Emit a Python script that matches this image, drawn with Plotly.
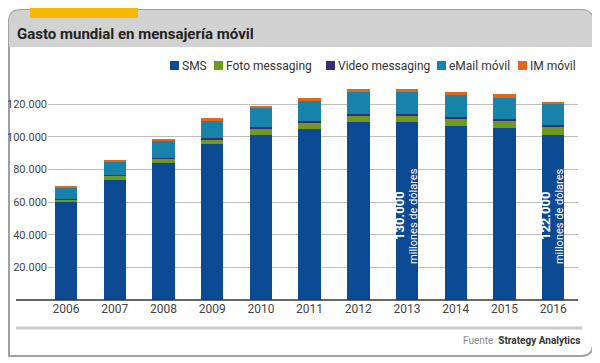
import plotly.graph_objects as go

years = ["2006", "2007", "2008", "2009", "2010", "2011", "2012", "2013", "2014", "2015", "2016"]
sms = [59800, 73600, 83800, 95400, 101300, 104500, 108800, 108800, 106600, 105500, 101300]
foto = [2000, 2700, 3000, 2600, 3800, 4100, 4100, 4100, 4600, 4500, 4900]
video = [200, 300, 400, 1000, 700, 800, 800, 800, 1100, 1000, 1000]
email = [6700, 7900, 10200, 10800, 11700, 12600, 13600, 13600, 13200, 12700, 12600]
im = [800, 800, 1000, 1600, 1500, 1400, 1700, 1700, 2000, 2300, 1400]

series_names = ["SMS", "Foto messaging", "Video messaging", "eMail móvil", "IM móvil"]
series_values = [sms, foto, video, email, im]
colors = ["#0c4a94", "#6f9a1f", "#3a2c78", "#1783a9", "#e2661f"]

y_tickvals = [20000, 40000, 60000, 80000, 100000, 120000]
y_ticktext = ["20.000", "40.000", "60.000", "80.000", "100.000", "120.000"]

note_years = ["2013", "2016"]
note_values = ["130.000", "122.000"]
note_unit = "millones de dólares"

FONT = "Roboto, sans-serif"

# page has an 8px body margin; work in page pixel coordinates
OX, OY = 8, 8
W, H = 592, 355
L, R, T, B = 40, 22, 72, 63
PW, PH = W - L - R, H - T - B


def px(x):
    return (x - OX - L) / PW


def py(y):
    return (H - B - (y - OY)) / PH


fig = go.Figure()
for name, vals, col in zip(series_names, series_values, colors):
    fig.add_trace(go.Bar(x=years, y=vals, name=name, marker=dict(color=col, line=dict(width=0)),
                         showlegend=False))

shapes = []
x0, x1, y0, y1, r = 9, 593, 10, 356, 12
card_path = (f"M {px(x0)} {py(y0 + r)} Q {px(x0)} {py(y0)} {px(x0 + r)} {py(y0)} "
             f"L {px(x1 - r)} {py(y0)} Q {px(x1)} {py(y0)} {px(x1)} {py(y0 + r)} "
             f"L {px(x1)} {py(y1 - r)} Q {px(x1)} {py(y1)} {px(x1 - r)} {py(y1)} "
             f"L {px(x0)} {py(y1)} Z")
shapes.append(dict(type="path", xref="paper", yref="paper", path=card_path,
                   fillcolor="white", line=dict(color="#a0a0a0", width=2), layer="below"))
hy1 = 47
head_path = (f"M {px(x0)} {py(hy1)} L {px(x0)} {py(y0 + r)} Q {px(x0)} {py(y0)} {px(x0 + r)} {py(y0)} "
             f"L {px(x1 - r)} {py(y0)} Q {px(x1)} {py(y0)} {px(x1)} {py(y0 + r)} "
             f"L {px(x1)} {py(hy1)} Z")
shapes.append(dict(type="path", xref="paper", yref="paper", path=head_path,
                   fillcolor="#d2d2d2", line=dict(width=0), layer="below"))
shapes.append(dict(type="rect", xref="paper", yref="paper", x0=px(30), x1=px(138), y0=py(18), y1=py(8),
                   fillcolor="#f6b800", line=dict(width=0), layer="below"))
shapes.append(dict(type="line", xref="paper", yref="paper", x0=px(16), x1=px(578), y0=0, y1=0,
                   line=dict(color="#333333", width=1.5)))
shapes.append(dict(type="line", xref="paper", yref="paper", x0=px(16), x1=px(582), y0=py(328), y1=py(328),
                   line=dict(color="#c8c8c8", width=3)))

annotations = []
annotations.append(dict(text="<b>Gasto mundial en mensajería móvil</b>", xref="paper", yref="paper",
                        x=px(15), y=py(34), xanchor="left", yanchor="middle", showarrow=False,
                        font=dict(family=FONT, size=15, color="#222222")))

leg_sq = [170, 214, 326, 437, 518]
for name, col, sx in zip(series_names, colors, leg_sq):
    shapes.append(dict(type="rect", xref="paper", yref="paper", x0=px(sx), x1=px(sx + 9),
                       y0=py(70), y1=py(61), fillcolor=col, line=dict(width=0)))
    annotations.append(dict(text=name, xref="paper", yref="paper", x=px(sx + 10), y=py(66),
                            xanchor="left", yanchor="middle", showarrow=False,
                            font=dict(family=FONT, size=12, color="#333333")))

for yr, val in zip(note_years, note_values):
    idx = years.index(yr)
    annotations.append(dict(text="<b>" + val + "</b>", x=idx, y=51500, xref="x", yref="y",
                            xshift=-7, textangle=-90, showarrow=False,
                            font=dict(family=FONT, size=13, color="#ffffff")))
    annotations.append(dict(text=note_unit, x=idx, y=51500, xref="x", yref="y",
                            xshift=7, textangle=-90, showarrow=False,
                            font=dict(family=FONT, size=11, color="#ffffff")))

annotations.append(dict(text="<span style='color:#888888'>Fuente</span>  <b>Strategy Analytics</b>",
                        xref="paper", yref="paper", x=px(582), y=py(340), xanchor="right", yanchor="middle",
                        showarrow=False, font=dict(family=FONT, size=10, color="#333333")))

fig.update_layout(
    template="none",
    barmode="stack",
    bargap=0.54,
    width=W, height=H,
    margin=dict(l=L, r=R, t=T, b=B, pad=0, autoexpand=False),
    paper_bgcolor="white",
    plot_bgcolor="rgba(0,0,0,0)",
    font=dict(family=FONT, size=12, color="#333333"),
    shapes=shapes,
    annotations=annotations,
    xaxis=dict(type="category", range=[-0.37, 10.51], showgrid=False, showline=False, ticks="",
               automargin=False, tickfont=dict(family=FONT, size=12, color="#444444")),
    yaxis=dict(range=[0, 134700], tickvals=y_tickvals, ticktext=y_ticktext, showgrid=True,
               gridcolor="#bdbdbd", gridwidth=1, zeroline=False, showline=False, ticks="",
               automargin=False, tickfont=dict(family=FONT, size=11, color="#444444")),
)

fig.write_html("out.html")
